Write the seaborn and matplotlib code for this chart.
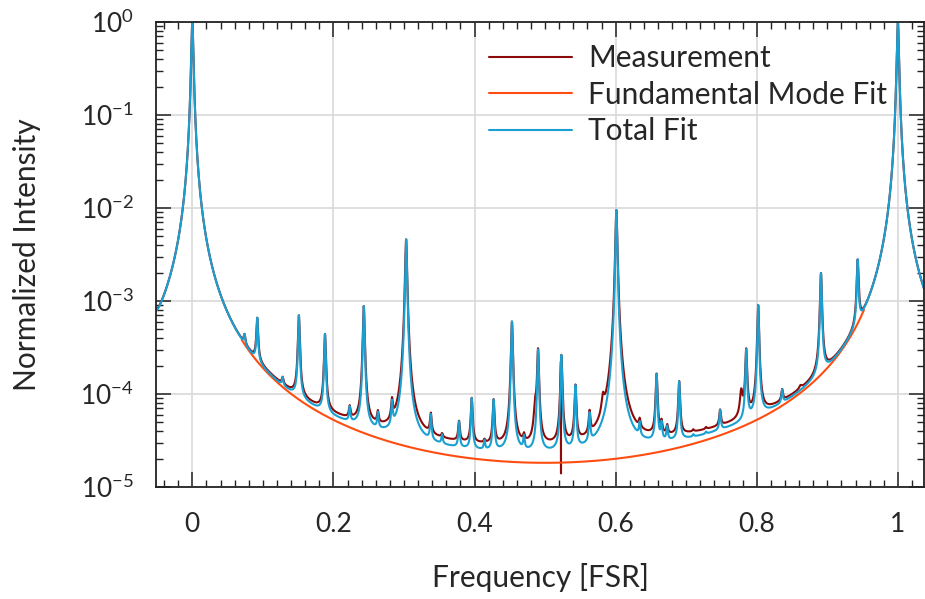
import numpy as np
import pandas as pd
import matplotlib
matplotlib.use("Agg")
import matplotlib.pyplot as plt
import seaborn as sns
from matplotlib.ticker import MultipleLocator, LogLocator, NullFormatter, FuncFormatter

# ---------------- data ----------------
series_names = ["Measurement", "Fundamental Mode Fit", "Total Fit"]
series_colors = ["#8b0a0a", "#ff4d12", "#1aa0d0"]

fund_center = 0.0              # position of fundamental resonance [FSR]
fund_minimum = 1.82e-5         # fundamental fit value half-way between resonances
fund_shown_range = [0.07, 0.952]

hom_pos = [0.074, 0.092, 0.128, 0.151, 0.188, 0.223, 0.243, 0.263, 0.283, 0.303,
           0.338, 0.354, 0.378, 0.396, 0.414, 0.427, 0.453, 0.470, 0.490, 0.523,
           0.543, 0.563, 0.601, 0.634, 0.658, 0.665, 0.673, 0.690, 0.710, 0.728,
           0.748, 0.785, 0.802, 0.836, 0.891, 0.943]
hom_height = [4.4e-4, 6.6e-4, 1.5e-4, 7.0e-4, 4.4e-4, 7.0e-5, 8.8e-4, 5.8e-5, 7.2e-5, 4.6e-3,
              5.6e-5, 3.4e-5, 4.9e-5, 8.9e-5, 3.0e-5, 8.5e-5, 6.0e-4, 3.2e-5, 3.0e-4, 2.6e-4,
              1.2e-4, 5.5e-5, 9.5e-3, 4.0e-5, 1.6e-4, 4.5e-5, 4.2e-5, 1.35e-4, 3.5e-5, 3.8e-5,
              6.6e-5, 3.0e-4, 9.0e-4, 1.1e-4, 2.0e-3, 2.8e-3]
hom_halfwidth_fit = 0.0011
hom_halfwidth_meas = 0.0013
fit_background = 4e-6
meas_background = 8e-6

meas_extra_pos = [0.486, 0.582, 0.778, 0.862]
meas_extra_height = [9.5e-5, 1.05e-4, 1.15e-4, 1.25e-4]
meas_extra_halfwidth = 0.002
spike_pos = 0.5225
spike_value = 1.4e-5

x_limits = [-0.0515, 1.037]
y_limits = [1e-5, 1.0]

# ---------------- build curves from the values above ----------------
F_fund = 1.0 / fund_minimum - 1.0
x = np.linspace(x_limits[0], x_limits[1], 12001)


def airy(xx, center, F):
    return 1.0 / (1.0 + F * np.sin(np.pi * (xx - center)) ** 2)


def fund(xx):
    return airy(xx, fund_center, F_fund)


def hom_sum(xx, halfwidth, base_fn):
    F_h = 1.0 / (np.pi * halfwidth) ** 2
    out = np.zeros_like(xx)
    for p, h in zip(hom_pos, hom_height):
        amp = max(h - base_fn(np.array([p]))[0], 2e-6)
        out += amp * airy(xx, p, F_h)
    return out


fit_base = lambda xx: fund(xx) + fit_background
total_fit = fit_base(x) + hom_sum(x, hom_halfwidth_fit, fit_base)

meas_base = lambda xx: fund(xx) + meas_background
meas = meas_base(x) + hom_sum(x, hom_halfwidth_meas, meas_base)
meas_model = lambda xx: meas_base(xx) + hom_sum(xx, hom_halfwidth_meas, meas_base)
F_ex = 1.0 / (np.pi * meas_extra_halfwidth) ** 2
for p, h in zip(meas_extra_pos, meas_extra_height):
    amp = max(h - meas_model(np.array([p]))[0], 1e-6)
    meas += amp * airy(x, p, F_ex)
idx = np.searchsorted(x, spike_pos)
x_meas = np.insert(x, idx, spike_pos)
meas = np.insert(meas, idx, spike_value)

mask = (x >= fund_shown_range[0]) & (x <= fund_shown_range[1])

df = pd.concat([
    pd.DataFrame({"x": x_meas, "y": meas, "series": series_names[0]}),
    pd.DataFrame({"x": x[mask], "y": fund(x[mask]), "series": series_names[1]}),
    pd.DataFrame({"x": x, "y": total_fit, "series": series_names[2]}),
], ignore_index=True)

# ---------------- plot ----------------
sns.set_style("ticks")
plt.rcParams["font.family"] = ["Lato", "DejaVu Sans"]
plt.rcParams["mathtext.fontset"] = "custom"
plt.rcParams["mathtext.rm"] = "Lato"

fig = plt.figure(figsize=(9.25, 5.99), dpi=100)
ax = fig.add_axes([156 / 925, 1 - 487 / 599, (924 - 156) / 925, (487 - 22) / 599])

sns.lineplot(data=df, x="x", y="y", hue="series", hue_order=series_names,
             palette=dict(zip(series_names, series_colors)), estimator=None,
             sort=False, linewidth=1.5, ax=ax, legend=True)

ax.set_yscale("log")
ax.set_xlim(*x_limits)
ax.set_ylim(*y_limits)

ax.xaxis.set_major_locator(MultipleLocator(0.2))
ax.xaxis.set_minor_locator(MultipleLocator(0.02))
ax.xaxis.set_major_formatter(FuncFormatter(lambda v, p: "%g" % round(v, 3)))
ax.yaxis.set_major_locator(LogLocator(base=10, numticks=10))
ax.yaxis.set_minor_locator(LogLocator(base=10, subs=np.arange(2, 10), numticks=20))
ax.yaxis.set_minor_formatter(NullFormatter())

ax.grid(True, which="major", color="#d9d9d9", linewidth=1.2)
ax.set_axisbelow(True)
ax.tick_params(which="both", direction="in", top=True, right=True, color="#222222")
ax.tick_params(which="major", length=11, width=1.1, labelsize=19)
ax.tick_params(which="minor", length=5, width=1.0)
ax.tick_params(axis="x", which="major", pad=18)
ax.tick_params(axis="y", which="major", pad=16)
for s in ax.spines.values():
    s.set_linewidth(1.3)
    s.set_color("#222222")

ax.set_xlabel("Frequency [FSR]", fontsize=21.5, labelpad=19)
ax.set_ylabel("Normalized Intensity", fontsize=21.5, labelpad=28)

handles, labels = ax.get_legend_handles_labels()
ax.legend(handles=handles, labels=labels, loc="upper left", frameon=False,
          bbox_to_anchor=(489 / 925, 1 - 44 / 599), bbox_transform=fig.transFigure,
          fontsize=21.5, handlelength=2.78, handletextpad=0.53, labelspacing=0.29,
          borderpad=0, borderaxespad=0)

fig.savefig("out.png", dpi=100)
